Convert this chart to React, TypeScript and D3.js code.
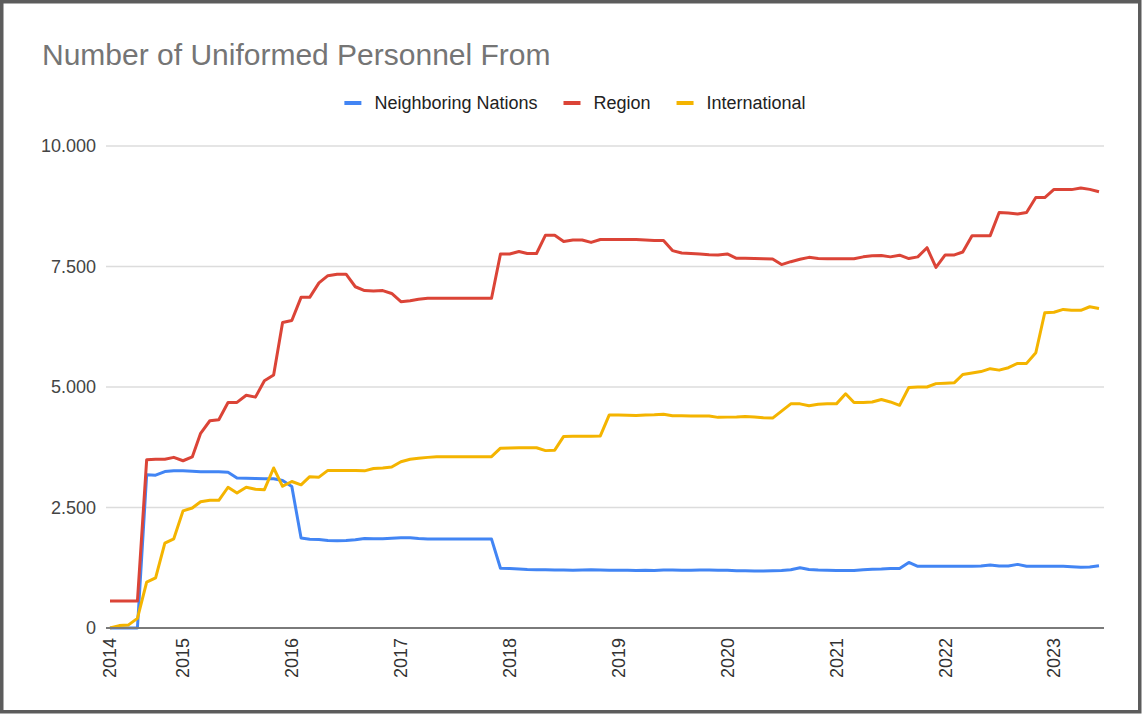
import * as d3 from 'd3';
import React, { useRef, useEffect } from 'react';

// monthly points, May 2014 .. Jun 2023
const months: Date[] = d3.timeMonth.range(new Date(2014, 4, 1), new Date(2023, 6, 1));

const seriesNames = ['Neighboring Nations', 'Region', 'International'];
const seriesColors = ['#4285f4', '#db4437', '#f4b400'];

const neighboring = [
  0, 0, 0, 0, 3180, 3170, 3245, 3260, 3260, 3250,
  3240, 3240, 3240, 3230, 3110, 3105, 3100, 3095, 3095, 3060,
  2935, 1866, 1840, 1835, 1815, 1810, 1815, 1830, 1855, 1850,
  1850, 1860, 1870, 1870, 1855, 1845, 1845, 1845, 1845, 1845,
  1845, 1845, 1845, 1240, 1235, 1225, 1215, 1210, 1210, 1205,
  1205, 1200, 1205, 1210, 1205, 1200, 1200, 1200, 1195, 1200,
  1195, 1205, 1205, 1200, 1200, 1205, 1205, 1200, 1200, 1190,
  1190, 1185, 1185, 1190, 1195, 1210, 1250, 1215, 1205, 1200,
  1195, 1195, 1195, 1210, 1220, 1225, 1235, 1235, 1360, 1280,
  1280, 1280, 1280, 1280, 1280, 1280, 1285, 1305, 1285, 1285,
  1320, 1280, 1280, 1280, 1280, 1280, 1270, 1260, 1265, 1290,
];

const region = [
  560, 560, 560, 560, 3490, 3500, 3500, 3540, 3470, 3550,
  4040, 4300, 4320, 4680, 4680, 4830, 4790, 5130, 5250, 6340,
  6380, 6860, 6860, 7160, 7310, 7340, 7340, 7080, 7000, 6990,
  7000, 6940, 6770, 6790, 6820, 6840, 6840, 6840, 6840, 6840,
  6840, 6840, 6840, 7760, 7760, 7810, 7770, 7770, 8150, 8150,
  8020, 8050, 8050, 8000, 8060, 8060, 8060, 8060, 8060, 8050,
  8040, 8040, 7830, 7780, 7770, 7760, 7745, 7740, 7760, 7670,
  7670, 7665, 7660, 7655, 7540, 7600, 7650, 7690, 7665, 7660,
  7660, 7660, 7660, 7700, 7725, 7730, 7700, 7735, 7665, 7700,
  7890, 7480, 7740, 7740, 7800, 8140, 8140, 8140, 8620, 8610,
  8590, 8620, 8930, 8930, 9100, 9100, 9095, 9130, 9100, 9050,
];

const international = [
  0, 50, 60, 200, 950, 1040, 1760, 1850, 2430, 2490,
  2620, 2650, 2650, 2920, 2800, 2920, 2880, 2870, 3320, 2940,
  3040, 2970, 3140, 3130, 3270, 3270, 3270, 3270, 3260, 3310,
  3320, 3340, 3450, 3500, 3520, 3540, 3555, 3555, 3555, 3555,
  3555, 3555, 3555, 3730, 3735, 3740, 3740, 3740, 3680, 3690,
  3975, 3980, 3980, 3980, 3985, 4420, 4420, 4415, 4410, 4420,
  4425, 4435, 4405, 4405, 4400, 4400, 4400, 4370, 4375, 4380,
  4390, 4380, 4360, 4355, 4500, 4650, 4650, 4610, 4640, 4650,
  4650, 4860, 4680, 4680, 4690, 4740, 4690, 4620, 4990, 5000,
  5000, 5070, 5080, 5090, 5260, 5290, 5320, 5380, 5350, 5400,
  5490, 5490, 5710, 6540, 6550, 6610, 6590, 6590, 6665, 6630,
];

const yTicks = [0, 2500, 5000, 7500, 10000];

const FONT = '"Liberation Sans", Arial, Helvetica, sans-serif';

function App() {
  const ref = useRef(null);

  useEffect(() => {
    const width = 1144;
    const height = 716;
    const svg = d3.select(ref.current);
    svg.selectAll('*').remove();

    const x = d3
      .scaleTime()
      .domain([months[0], months[months.length - 1]])
      .range([110, 1099]);
    const y = d3.scaleLinear().domain([0, 10000]).range([628, 146]);

    const fmt = d3
      .formatLocale({ decimal: ',', thousands: '.', grouping: [3], currency: ['', ''] })
      .format(',');

    // frame
    svg
      .append('rect')
      .attr('x', 1.75)
      .attr('y', 1.75)
      .attr('width', width - 6)
      .attr('height', height - 6)
      .attr('fill', '#fff')
      .attr('stroke', '#5c5c5c')
      .attr('stroke-width', 3.5);

    svg
      .append('text')
      .attr('x', 42)
      .attr('y', 65)
      .attr('font-family', FONT)
      .attr('font-size', 30)
      .attr('fill', '#757575')
      .text('Number of Uniformed Personnel From');

    // legend
    const legend = svg.append('g').attr('font-family', FONT).attr('font-size', 18);
    const items = legend
      .selectAll('g')
      .data(seriesNames)
      .join('g');
    items
      .append('rect')
      .attr('width', 17)
      .attr('height', 4)
      .attr('y', -2)
      .attr('fill', (d, i) => seriesColors[i]);
    items
      .append('text')
      .attr('x', 30)
      .attr('dy', '0.35em')
      .attr('fill', '#222')
      .text((d) => d);
    let pos = 0;
    const offsets: number[] = [];
    items.each(function () {
      offsets.push(pos);
      const t = d3.select(this).select('text').node() as SVGTextElement;
      pos += 30 + t.getComputedTextLength() + 26;
    });
    const total = pos - 26;
    items.attr('transform', (d, i) => `translate(${offsets[i]},0)`);
    legend.attr('transform', `translate(${width / 2 - total / 2 + 3},103)`);

    // grid + y labels
    const grid = svg.append('g');
    grid
      .selectAll('line')
      .data(yTicks.filter((t) => t > 0))
      .join('line')
      .attr('x1', 106)
      .attr('x2', 1104)
      .attr('y1', (d) => y(d))
      .attr('y2', (d) => y(d))
      .attr('stroke', '#dcdcdc')
      .attr('stroke-width', 1.5);
    grid
      .selectAll('text')
      .data(yTicks)
      .join('text')
      .attr('x', 96)
      .attr('y', (d) => y(d))
      .attr('dy', '0.35em')
      .attr('text-anchor', 'end')
      .attr('font-family', FONT)
      .attr('font-size', 18)
      .attr('fill', '#444')
      .text((d) => fmt(d));

    // x labels: first point plus every January
    const xTicks = [months[0], ...d3.timeYear.range(new Date(2015, 0, 1), months[months.length - 1])];
    svg
      .append('g')
      .selectAll('text')
      .data(xTicks)
      .join('text')
      .attr('transform', (d) => `translate(${x(d)},638) rotate(-90)`)
      .attr('dy', '0.35em')
      .attr('text-anchor', 'end')
      .attr('font-family', FONT)
      .attr('font-size', 18)
      .attr('fill', '#333')
      .text((d) => d3.timeFormat('%Y')(d));

    // lines
    const allSeries = [neighboring, region, international];
    const line = d3
      .line<number>()
      .x((d, i) => x(months[i]))
      .y((d) => y(d));
    svg
      .append('g')
      .selectAll('path')
      .data(allSeries)
      .join('path')
      .attr('fill', 'none')
      .attr('stroke', (d, i) => seriesColors[i])
      .attr('stroke-width', 3)
      .attr('stroke-linejoin', 'round')
      .attr('d', (d) => line(d));

    // baseline
    svg
      .append('line')
      .attr('x1', 106)
      .attr('x2', 1104)
      .attr('y1', y(0))
      .attr('y2', y(0))
      .attr('stroke', '#7a7a7a')
      .attr('stroke-width', 2);
  }, []);

  return (
    <svg
      ref={ref}
      width={1144}
      height={716}
      style={{ position: 'absolute', left: 0, top: 0, background: '#fff' }}
    />
  );
}

export default App;
